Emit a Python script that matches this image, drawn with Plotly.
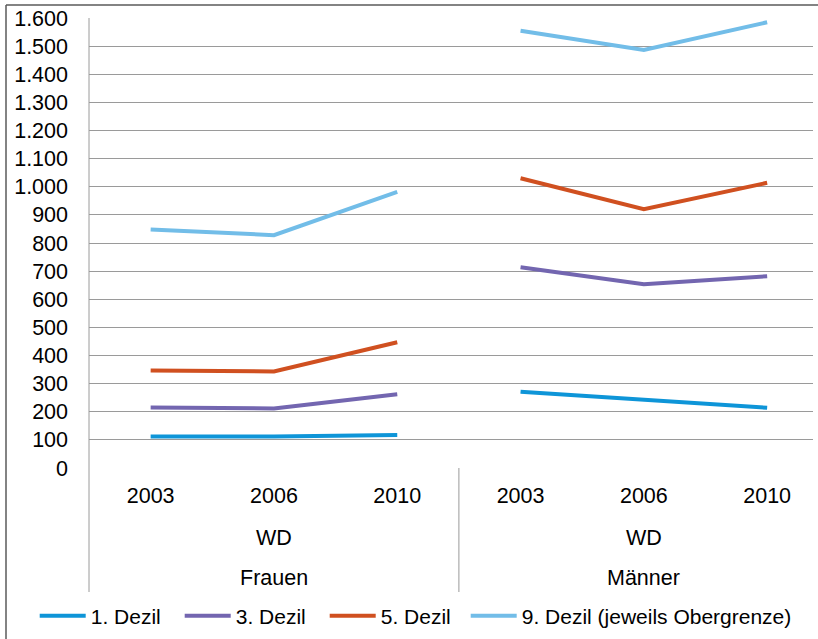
import plotly.graph_objects as go

# Categories: years within each group (WD), split by gender
years = ["2003", "2006", "2010"]
region = "WD"
groups = ["Frauen", "Männer"]

series_names = ["1. Dezil", "3. Dezil", "5. Dezil", "9. Dezil (jeweils Obergrenze)"]
series_colors = ["#0E95D8", "#7366B0", "#D05020", "#72BDE8"]
# the long last entry sits in its own legend so it is not clipped
series_legends = ["legend", "legend", "legend", "legend2"]

# Values per decile: Frauen (2003, 2006, 2010), Männer (2003, 2006, 2010)
frauen_d1 = [112, 112, 117]
frauen_d3 = [215, 212, 262]
frauen_d5 = [347, 343, 447]
frauen_d9 = [848, 828, 982]

maenner_d1 = [271, 242, 214]
maenner_d3 = [714, 653, 682]
maenner_d5 = [1030, 920, 1014]
maenner_d9 = [1555, 1486, 1585]

frauen = [frauen_d1, frauen_d3, frauen_d5, frauen_d9]
maenner = [maenner_d1, maenner_d3, maenner_d5, maenner_d9]

y_ticks = list(range(0, 1601, 100))

FONT = "Liberation Sans, Arial, sans-serif"
GRID = "#9a9a9a"
FS = 21.5

n_years = len(years)
x_frauen = list(range(n_years))
x_maenner = [n_years + i for i in range(n_years)]

fig = go.Figure()
for name, color, leg, fv, mv in zip(series_names, series_colors, series_legends, frauen, maenner):
    fig.add_trace(go.Scatter(
        x=x_frauen, y=fv, mode="lines", name=name, legendgroup=name, legend=leg,
        line=dict(color=color, width=4), showlegend=True,
    ))
    fig.add_trace(go.Scatter(
        x=x_maenner, y=mv, mode="lines", name=name, legendgroup=name, legend=leg,
        line=dict(color=color, width=4), showlegend=False,
    ))

plot_h = 450
plot_w = 724


def py(px_from_bottom):
    return px_from_bottom / plot_h


shapes = [
    # left axis line running down through the category labels
    dict(type="line", xref="paper", yref="paper", x0=0, x1=0, y0=1, y1=py(-124),
         line=dict(color=GRID, width=1)),
    # separator between the two gender groups
    dict(type="line", xref="x", yref="paper", x0=n_years - 0.5, x1=n_years - 0.5,
         y0=0, y1=py(-124), line=dict(color=GRID, width=1)),
    # outer chart frame (top and left edges)
    dict(type="line", xref="paper", yref="paper", x0=-83 / plot_w, x1=1.05,
         y0=py(463), y1=py(463), line=dict(color="#5a5a5a", width=1.5)),
    dict(type="line", xref="paper", yref="paper", x0=-83 / plot_w, x1=-83 / plot_w,
         y0=py(463), y1=py(-200), line=dict(color="#5a5a5a", width=1.5)),
]

annotations = []
for gi, g in enumerate(groups):
    center = gi * n_years + (n_years - 1) / 2
    annotations.append(dict(x=center, y=py(-69.5), xref="x", yref="paper", text=region,
                            yanchor="middle", showarrow=False,
                            font=dict(size=FS, color="black", family=FONT)))
    annotations.append(dict(x=center, y=py(-110), xref="x", yref="paper", text=g,
                            yanchor="middle", showarrow=False,
                            font=dict(size=FS, color="black", family=FONT)))

legend_common = dict(
    orientation="h", xanchor="left", y=py(-148), yanchor="middle",
    font=dict(size=21, family=FONT, color="black"),
    itemwidth=46, bgcolor="rgba(0,0,0,0)", tracegroupgap=0,
)

fig.update_layout(
    width=818, height=639,
    margin=dict(l=89, r=5, t=18, b=171, autoexpand=False),
    paper_bgcolor="white", plot_bgcolor="white",
    separators=",.",
    font=dict(family=FONT, size=FS, color="black"),
    shapes=shapes, annotations=annotations,
    showlegend=True,
    legend=dict(x=-0.075, entrywidth=84, entrywidthmode="pixels", **legend_common),
    legend2=dict(x=(473 - 7.3 - 89) / plot_w, **legend_common),
    xaxis=dict(
        range=[-0.5, -0.5 + plot_w / 123.3],
        tickvals=x_frauen + x_maenner, ticktext=years + years,
        showgrid=False, zeroline=False, showline=False, ticks="",
        ticklabelstandoff=12, tickfont=dict(size=FS, family=FONT, color="black"),
    ),
    yaxis=dict(
        range=[0, 1600], tickvals=y_ticks, tickformat=",d",
        showgrid=True, gridcolor=GRID, gridwidth=1,
        zeroline=False, showline=False, ticks="",
        ticklabelstandoff=20, tickfont=dict(size=FS, family=FONT, color="black"),
    ),
)

fig.write_html("out.html")
